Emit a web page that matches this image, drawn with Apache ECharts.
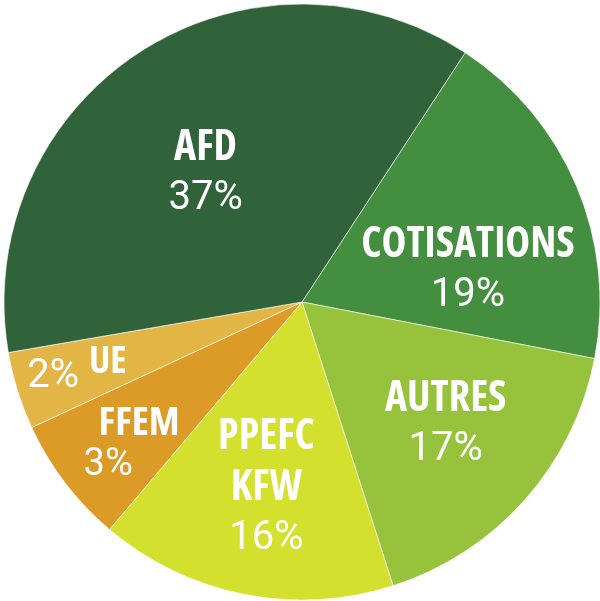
<!DOCTYPE html>
<html>
<head>
<meta charset="utf-8">
<script src="https://cdn.jsdelivr.net/npm/echarts@6/dist/echarts.min.js"></script>
<style>
  html, body { margin: 0; padding: 0; background: #fff; }
  #chart { width: 600px; height: 601px; }
</style>
</head>
<body>
<div id="chart"></div>
<script>
// slices, clockwise from the AFD / COTISATIONS edge
const categories = ['COTISATIONS', 'AUTRES', 'PPEFC\nKFW', 'FFEM', 'UE', 'AFD']
// slice sizes as drawn (the printed percentages are rounded differently)
const shares = [18.8, 17.0, 16.1, 6.9, 4.2, 36.9]
const pctLabels = ['19%', '17%', '16%', '3%', '2%', '37%']
const colors = ['#448f3f', '#96c33b', '#d3e02d', '#dc9a26', '#e3b545', '#31633a']

// nudges of each label from its default inside spot
const labelNudge = [
  [26, 28], [30, 22], [-6, 37], [-42, 50], [-80, 26], [-13, -1]
]

const chart = echarts.init(document.getElementById('chart'))

// condensed caps for names, plain digits for percentages
const nameFont = '"Open Sans", "Roboto Condensed", sans-serif'
const pctFont = 'Roboto, "Open Sans", sans-serif'

const fmt = (p) => {
  const i = p.dataIndex
  const name = categories[i]
  const pct = pctLabels[i]
  if (name === 'UE') return '{up|' + pct + '}{un|' + name + '}'
  if (name === 'FFEM') return '{ns|' + name + '}\n{ps|' + pct + '}'
  const lines = name.split('\n').map(s => '{n|' + s + '}')
  return lines.join('\n') + '\n{p|' + pct + '}'
}

chart.setOption({
  animation: false,
  series: [
    {
      type: 'pie',
      center: [302, 302],
      radius: [0, 298],
      startAngle: 56.8,
      clockwise: true,
      itemStyle: {
        borderColor: 'rgba(255,255,255,0.6)',
        borderWidth: 1
      },
      labelLine: { show: false },
      label: {
        show: true,
        position: 'inside',
        formatter: fmt,
        color: '#fff',
        rich: {
          n: { fontFamily: nameFont, fontStyle: 'condensed', fontWeight: 'bold', fontSize: 42, lineHeight: 51, color: '#fff' },
          p: { fontFamily: pctFont, fontWeight: 400, fontSize: 40, lineHeight: 51, color: '#fff' },
          ns: { fontFamily: nameFont, fontStyle: 'condensed', fontWeight: 'bold', fontSize: 40, lineHeight: 42, color: '#fff' },
          ps: { fontFamily: pctFont, fontWeight: 400, fontSize: 38, lineHeight: 42, color: '#fff', padding: [0, 62, 0, 0] },
          up: { fontFamily: pctFont, fontWeight: 400, fontSize: 40, lineHeight: 48, color: '#fff', verticalAlign: 'bottom', padding: [0, 10, 0, 0] },
          un: { fontFamily: nameFont, fontStyle: 'condensed', fontWeight: 'bold', fontSize: 38, lineHeight: 48, color: '#fff', verticalAlign: 'bottom', padding: [0, 0, 16, 0] }
        }
      },
      labelLayout: (params) => {
        const d = labelNudge[params.dataIndex]
        return { dx: d[0], dy: d[1] }
      },
      emphasis: { disabled: true },
      data: categories.map((c, i) => ({
        name: c,
        value: shares[i],
        itemStyle: { color: colors[i] }
      }))
    }
  ]
})
</script>
</body>
</html>
